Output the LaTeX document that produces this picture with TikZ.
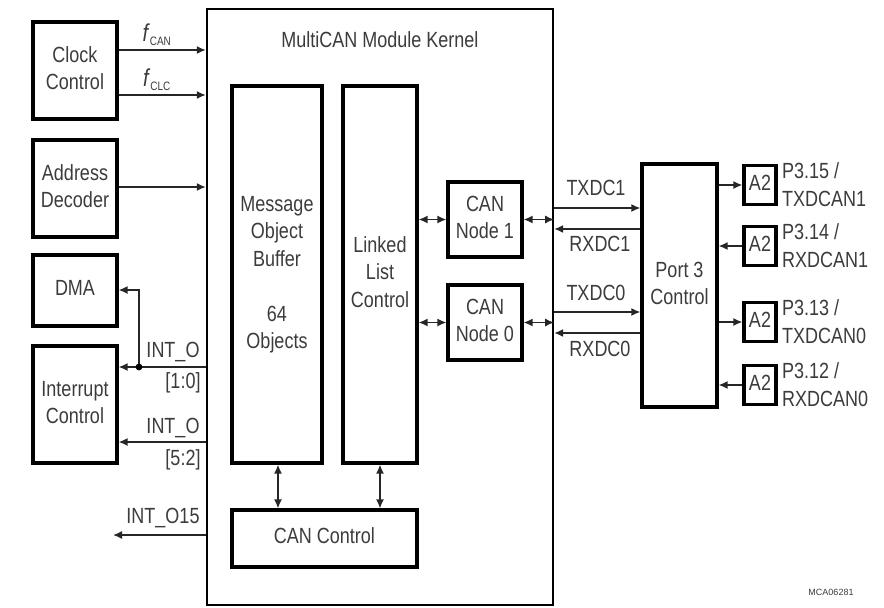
\documentclass[tikz,border=0pt]{standalone}
\usepackage{fontspec}
\setmainfont{Liberation Sans}
\usepackage{graphicx}
\usetikzlibrary{arrows.meta}
\definecolor{txt}{HTML}{3C3C3C}
\newcommand{\vs}[1]{\scalebox{1}[1.22]{\begin{tabular}{@{}c@{}}#1\end{tabular}}}
\newcommand{\vsl}[1]{\scalebox{1}[1.22]{\begin{tabular}{@{}l@{}}#1\end{tabular}}}
\begin{document}
\begin{tikzpicture}[x=1pt,y=-1pt,
  blk/.style={draw=black, line width=3.2pt, inner sep=0pt, text=txt, font=\fontsize{18}{22.5}\selectfont},
  lbl/.style={text=txt, inner sep=0pt, font=\fontsize{18}{22.5}\selectfont},
  arr/.style={line width=1.5pt, draw=black!85, -{Latex[length=9pt,width=8pt]}},
  darr/.style={line width=1.5pt, draw=black!85, {Latex[length=9pt,width=8pt]}-{Latex[length=9pt,width=8pt]}},
]
\useasboundingbox[fill=white] (0,0) rectangle (884,608);

% kernel
\node[draw=black, line width=2.4pt, minimum width=346pt, minimum height=596pt, inner sep=0pt] (kernel) at (380,307) {};
\node[lbl] (ktitle) at (380,42) {\vs{MultiCAN Module Kernel}};

% left blocks
\node[blk, minimum width=84pt, minimum height=97pt] (clk) at (75,70.5) {\vs{Clock\\Control}};
\node[blk, minimum width=84pt, minimum height=97pt] (addr) at (75,188.5) {\vs{Address\\Decoder}};
\node[blk, minimum width=84pt, minimum height=71pt] (dma) at (75,290.5) {\vs{DMA}};
\node[blk, minimum width=84pt, minimum height=117pt] (intc) at (75,404.5) {\vs{Interrupt\\Control}};

% inner blocks
\node[blk, minimum width=90pt, minimum height=377pt] (mob) at (277,274.5) {\vs{Message\\Object\\Buffer\\ \\64\\Objects}};
\node[blk, minimum width=74pt, minimum height=377pt] (llc) at (380,274.5) {\vs{Linked\\List\\Control}};
\node[blk, minimum width=185pt, minimum height=57pt] (canctl) at (324.5,538.5) {\vs{CAN Control}};
\node[blk, minimum width=74pt, minimum height=75pt] (node1) at (485,219.5) {\vs{CAN\\Node 1}};
\node[blk, minimum width=74pt, minimum height=75pt] (node0) at (485,322.5) {\vs{CAN\\Node 0}};

% port
\node[blk, minimum width=75pt, minimum height=243pt] (port) at (679.5,285.5) {\vs{Port 3\\Control}};
\node[blk, minimum width=32pt, minimum height=39pt] (a1) at (760,185) {\vs{A2}};
\node[blk, minimum width=32pt, minimum height=39pt] (a2) at (760,246) {\vs{A2}};
\node[blk, minimum width=32pt, minimum height=39pt] (a3) at (760,322) {\vs{A2}};
\node[blk, minimum width=32pt, minimum height=39pt] (a4) at (760,385) {\vs{A2}};
\node[lbl, anchor=west] (p1) at (782,187) {\vsl{P3.15 /\\TXDCAN1}};
\node[lbl, anchor=west] (p2) at (782,248) {\vsl{P3.14 /\\RXDCAN1}};
\node[lbl, anchor=west] (p3) at (782,324) {\vsl{P3.13 /\\TXDCAN0}};
\node[lbl, anchor=west] (p4) at (782,387) {\vsl{P3.12 /\\RXDCAN0}};

% clock / address arrows
\draw[arr] (clk.east |- 0,50) -- (kernel.west |- 0,50);
\draw[arr] (clk.east |- 0,95) -- (kernel.west |- 0,95);
\draw[arr] (addr.east |- 0,187) -- (kernel.west |- 0,187);
\node[lbl] (fcan) at (157,35) {\scalebox{1}[1.22]{\fontsize{20}{22}\selectfont\itshape f\/\upshape\textsubscript{\fontsize{10}{10}\selectfont CAN}}};
\node[lbl] (fclc) at (157,80) {\scalebox{1}[1.22]{\fontsize{20}{22}\selectfont\itshape f\/\upshape\textsubscript{\fontsize{10}{10}\selectfont CLC}}};

% interrupt arrows
\coordinate (j) at (139,367);
\draw[arr] (kernel.west |- j) -- (intc.east |- j);
\draw[arr] (j) -- (139,290) -- (dma.east |- 0,290);
\fill (j) circle (3.4pt);
\draw[arr] (kernel.west |- 0,442) -- (intc.east |- 0,442);
\coordinate (i15) at (113,535);
\draw[arr] (kernel.west |- i15) -- (i15);
\node[lbl] (io1) at (173,352) {\vs{INT\_O}};
\node[lbl] (io1b) at (183,383) {\vs{[1:0]}};
\node[lbl] (io2) at (173,428) {\vs{INT\_O}};
\node[lbl] (io2b) at (183,460) {\vs{[5:2]}};
\node[lbl] (io15) at (163,518) {\vs{INT\_O15}};

% internal double arrows
\draw[darr] (mob.south -| 278,0) -- (canctl.north -| 278,0);
\draw[darr] (llc.south -| 380,0) -- (canctl.north -| 380,0);
\draw[darr] (llc.east |- node1) -- (node1.west);
\draw[darr] (llc.east |- node0) -- (node0.west);
\draw[darr] (node1.east) -- (kernel.east |- node1);
\draw[darr] (node0.east) -- (kernel.east |- node0);

% TXD/RXD
\draw[arr] (kernel.east |- 0,208) -- (port.west |- 0,208);
\draw[arr] (port.west |- 0,229) -- (kernel.east |- 0,229);
\draw[arr] (kernel.east |- 0,312) -- (port.west |- 0,312);
\draw[arr] (port.west |- 0,333) -- (kernel.east |- 0,333);
\node[lbl] (tx1) at (596,190) {\vs{TXDC1}};
\node[lbl] (rx1) at (600,246) {\vs{RXDC1}};
\node[lbl] (tx0) at (596,295) {\vs{TXDC0}};
\node[lbl] (rx0) at (600,351) {\vs{RXDC0}};

% port to A2
\draw[arr] (port.east |- a1) -- (a1.west);
\draw[arr] (a2.west) -- (port.east |- a2);
\draw[arr] (port.east |- a3) -- (a3.west);
\draw[arr] (a4.west) -- (port.east |- a4);

\node[lbl, font=\fontsize{9}{10}\selectfont] (mca) at (831,592) {MCA06281};
\end{tikzpicture}
\end{document}
